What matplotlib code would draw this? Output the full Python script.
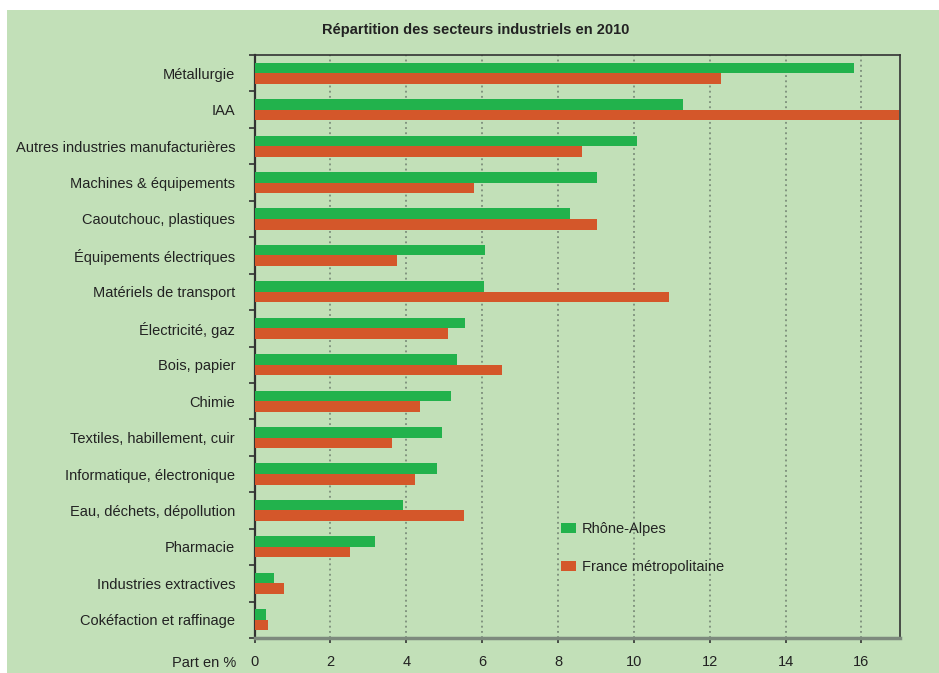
import numpy as np
import matplotlib.pyplot as plt
from matplotlib.patches import Rectangle

plt.rcParams['font.family'] = ['Liberation Sans', 'DejaVu Sans']

sectors = [
    "Métallurgie", "IAA", "Autres industries manufacturières",
    "Machines & équipements", "Caoutchouc, plastiques",
    "Équipements électriques", "Matériels de transport",
    "Électricité, gaz", "Bois, papier", "Chimie",
    "Textiles, habillement, cuir", "Informatique, électronique",
    "Eau, déchets, dépollution", "Pharmacie",
    "Industries extractives", "Cokéfaction et raffinage",
]
rhone_alpes = [15.8, 11.3, 10.08, 9.03, 8.32, 6.08, 6.05, 5.55,
               5.34, 5.18, 4.94, 4.81, 3.91, 3.17, 0.51, 0.30]
france = [12.3, 16.98, 8.64, 5.79, 9.03, 3.75, 10.93, 5.10,
          6.52, 4.36, 3.62, 4.23, 5.52, 2.51, 0.77, 0.35]
xticks = [0, 2, 4, 6, 8, 10, 12, 14, 16]

bg = '#c2e0b8'
green = '#22b24c'
orange = '#d4572a'
fs = 10.5

W, H = 939, 673
fig = plt.figure(figsize=(W / 100, H / 100), dpi=100)
fig.patch.set_facecolor('white')
fig.add_artist(Rectangle((7 / W, 0), 1 - 7 / W, 1 - 10 / H,
                         transform=fig.transFigure, facecolor=bg,
                         edgecolor='none', zorder=-10))

ax = fig.add_axes([254.5 / W, 1 - 638 / H, 646 / W, 583 / H])
ax.set_facecolor(bg)

y = np.arange(len(sectors))
h = 0.29
ax.barh(y - h / 2, rhone_alpes, height=h, color=green, label='Rhône-Alpes', zorder=3)
ax.barh(y + h / 2, france, height=h, color=orange, label='France métropolitaine', zorder=3)

ax.set_xlim(0, 17.03)
ax.set_ylim(len(sectors) - 0.5, -0.5)
ax.set_xticks(xticks)
ax.set_yticks(y)
ax.set_yticklabels(sectors)
ax.set_yticks(np.arange(len(sectors) + 1) - 0.5, minor=True)
ax.tick_params(axis='y', which='major', length=0, pad=14, labelsize=fs, labelcolor='#222')
ax.tick_params(axis='y', which='minor', length=4.5, width=1.2, color='#333', direction='out')
ax.tick_params(axis='x', length=3.5, width=1.2, color='#333', pad=9, labelsize=fs,
               labelcolor='#222')

ax.grid(axis='x', linestyle=(0, (1.2, 2.2)), color='#6f7f6f', linewidth=1.1, zorder=1)
ax.set_axisbelow(True)

for side in ['top', 'right']:
    ax.spines[side].set_color('#333')
    ax.spines[side].set_linewidth(1.2)
ax.spines['left'].set_color('#333')
ax.spines['left'].set_linewidth(1.6)
ax.spines['bottom'].set_color('#7d8a7d')
ax.spines['bottom'].set_linewidth(2.5)

fig.text(476 / W, 1 - 30 / H, 'Répartition des secteurs industriels en 2010',
         ha='center', va='center', fontsize=10.5, fontweight='bold', color='#222')
fig.text(236 / W, 1 - 663 / H, 'Part en %', ha='right', va='center',
         fontsize=fs, color='#222')

leg = ax.legend(loc='upper left', bbox_to_anchor=(548 / W, 1 - 509 / H),
                bbox_transform=fig.transFigure, frameon=False,
                handlelength=1.03, handleheight=0.69, handletextpad=0.41,
                labelspacing=1.65, fontsize=fs)
for t in leg.get_texts():
    t.set_color('#222')

fig.savefig('out.png', dpi=100)
